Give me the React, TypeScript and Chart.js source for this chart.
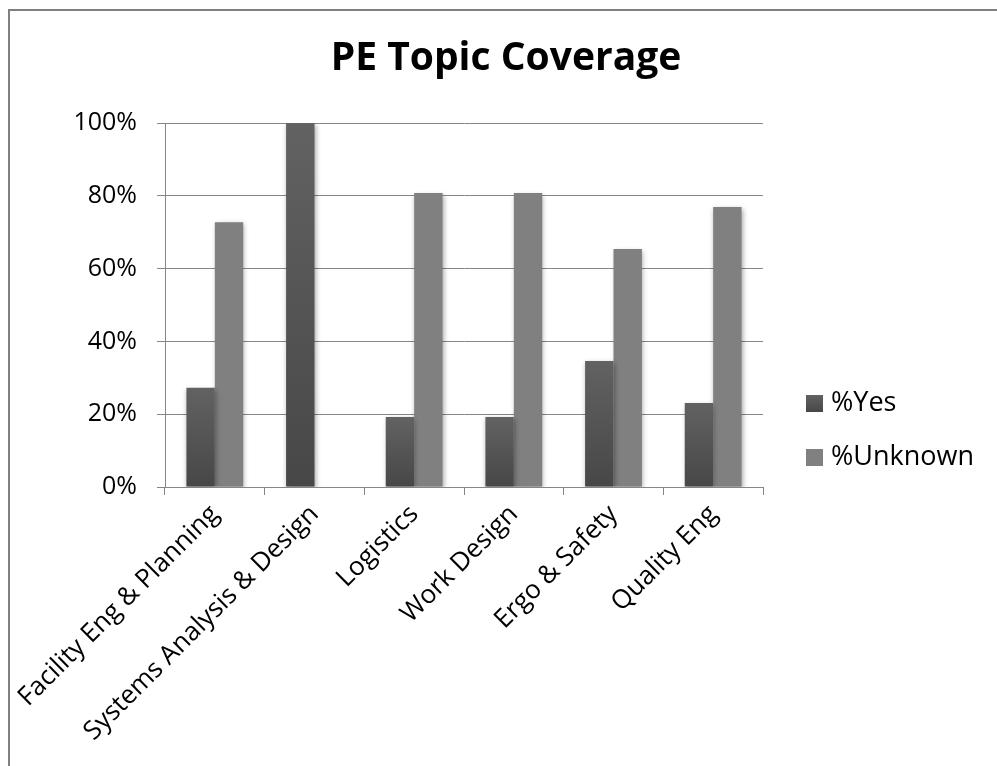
import React, { useEffect, useRef } from "react";
import { Chart, registerables } from "chart.js";

Chart.register(...registerables);

const TITLE = "PE Topic Coverage";
const CATEGORIES = [
  "Facility Eng & Planning",
  "Systems Analysis & Design",
  "Logistics",
  "Work Design",
  "Ergo & Safety",
  "Quality Eng",
];
const YES_LABEL = "%Yes";
const UNKNOWN_LABEL = "%Unknown";
const YES_VALUES = [27.3, 100, 19.2, 19.2, 34.6, 23.1];
const UNKNOWN_VALUES = [72.7, 0, 80.8, 80.8, 65.4, 76.9];
const Y_MIN = 0;
const Y_MAX = 100;
const Y_STEP = 20;

const FONT = "'Open Sans'";
const AXIS_GRAY = "#868686";
const DARK_TOP = "#626262";
const DARK_BOTTOM = "#474747";
const LIGHT = "#808080";

function darkGradient(context: any) {
  const chart = context.chart;
  const y = chart.scales && chart.scales.y;
  if (!y || context.parsed == null || context.type !== "data") return DARK_BOTTOM;
  const top = y.getPixelForValue(context.parsed.y);
  const bottom = y.getPixelForValue(0);
  if (!isFinite(top) || !isFinite(bottom) || top === bottom) return DARK_BOTTOM;
  const g = chart.ctx.createLinearGradient(0, top, 0, bottom);
  g.addColorStop(0, DARK_TOP);
  g.addColorStop(1, DARK_BOTTOM);
  return g;
}

const shadowPlugin = {
  id: "barShadow",
  beforeDatasetsDraw(chart: any) {
    const ctx = chart.ctx;
    ctx.save();
    ctx.shadowColor = "rgba(0,0,0,0.35)";
    ctx.shadowBlur = 5;
    ctx.shadowOffsetX = 1;
    ctx.shadowOffsetY = 2;
  },
  afterDatasetsDraw(chart: any) {
    chart.ctx.restore();
  },
};

const titlePlugin = {
  id: "customTitle",
  afterDraw(chart: any) {
    const ctx = chart.ctx;
    const area = chart.chartArea;
    ctx.save();
    ctx.font = `bold 39px ${FONT}`;
    ctx.fillStyle = "#000";
    ctx.textAlign = "center";
    ctx.textBaseline = "alphabetic";
    ctx.fillText(TITLE, (area.left + area.right) / 2 + 42, 59);
    ctx.restore();
  },
};

const legendPlugin = {
  id: "customLegend",
  afterDraw(chart: any) {
    const ctx = chart.ctx;
    const area = chart.chartArea;
    const items = [
      { label: YES_LABEL, color: "dark" },
      { label: UNKNOWN_LABEL, color: LIGHT },
    ];
    const boxX = area.right + 43;
    const box = 17;
    const firstY = 384;
    const gap = 54;
    ctx.save();
    items.forEach((it, i) => {
      const y = firstY + i * gap;
      if (it.color === "dark") {
        const g = ctx.createLinearGradient(0, y, 0, y + box);
        g.addColorStop(0, DARK_TOP);
        g.addColorStop(1, DARK_BOTTOM);
        ctx.fillStyle = g;
      } else {
        ctx.fillStyle = it.color;
      }
      ctx.fillRect(boxX, y, box, box);
      ctx.fillStyle = "#000";
      ctx.font = `27px ${FONT}`;
      ctx.textAlign = "left";
      ctx.textBaseline = "middle";
      ctx.fillText(it.label, boxX + box + 8, y + box / 2);
    });
    ctx.restore();
  },
};

export default function App() {
  const ref = useRef<HTMLCanvasElement | null>(null);

  useEffect(() => {
    if (!ref.current) return;
    const chart = new Chart(ref.current, {
      type: "bar",
      data: {
        labels: CATEGORIES,
        datasets: [
          {
            label: YES_LABEL,
            data: YES_VALUES,
            backgroundColor: darkGradient as any,
            borderWidth: 0,
            categoryPercentage: 0.57,
            barPercentage: 1.0,
          },
          {
            label: UNKNOWN_LABEL,
            data: UNKNOWN_VALUES,
            backgroundColor: LIGHT,
            borderWidth: 0,
            categoryPercentage: 0.57,
            barPercentage: 1.0,
          },
        ],
      },
      options: {
        responsive: false,
        animation: false,
        events: [],
        layout: { padding: { top: 112, left: 0, right: 234, bottom: 0 } },
        plugins: {
          legend: { display: false },
          title: { display: false },
          tooltip: { enabled: false },
        },
        scales: {
          x: {
            offset: true,
            grid: {
              offset: true,
              drawOnChartArea: false,
              drawTicks: true,
              tickLength: 8,
              color: AXIS_GRAY,
              tickColor: AXIS_GRAY,
              lineWidth: 1,
            },
            border: { display: true, color: AXIS_GRAY, width: 1 },
            ticks: {
              color: "#000",
              font: { family: FONT, size: 26 },
              maxRotation: 45,
              minRotation: 45,
              padding: 4,
              autoSkip: false,
            },
            afterFit(scale: any) {
              scale.height = 279;
              scale.paddingLeft = 0;
              scale.paddingRight = 0;
            },
          },
          y: {
            min: Y_MIN,
            max: Y_MAX,
            grid: {
              color: AXIS_GRAY,
              tickColor: AXIS_GRAY,
              tickLength: 8,
              lineWidth: 1,
            },
            border: { display: true, color: AXIS_GRAY, width: 1 },
            ticks: {
              stepSize: Y_STEP,
              color: "#000",
              font: { family: FONT, size: 25 },
              padding: 20,
              callback: (v: any) => `${v}%`,
            },
            afterFit(scale: any) {
              scale.width = 155;
              scale.paddingTop = 0;
              scale.paddingBottom = 0;
            },
          },
        },
      },
      plugins: [shadowPlugin, titlePlugin, legendPlugin],
    });
    return () => chart.destroy();
  }, []);

  return (
    <div
      style={{
        position: "absolute",
        left: 8,
        top: 9,
        width: 987,
        height: 755,
        borderTop: "2px solid #808080",
        borderLeft: "2px solid #808080",
        background: "#fff",
        overflow: "hidden",
      }}
    >
      <canvas ref={ref} width={987} height={755} style={{ display: "block" }} />
    </div>
  );
}
